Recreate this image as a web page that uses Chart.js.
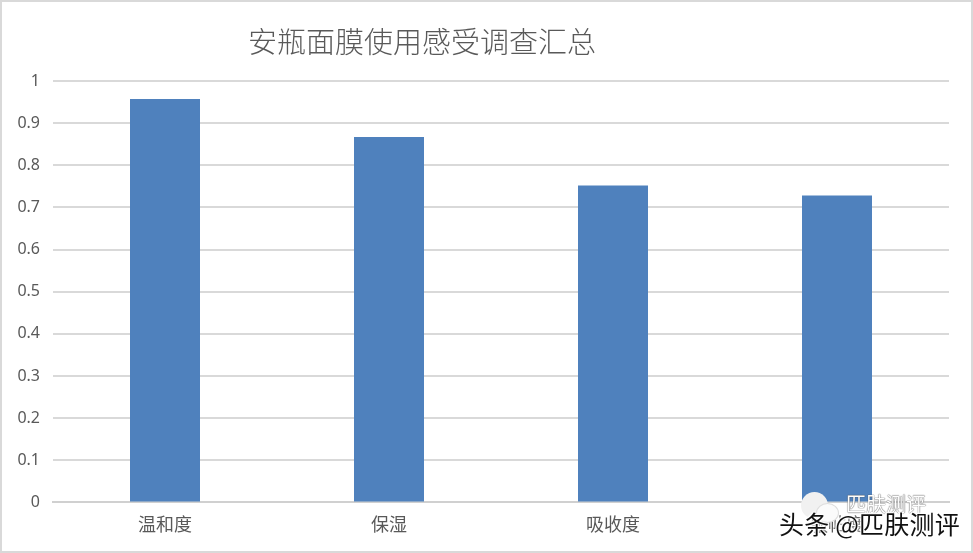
<!DOCTYPE html>
<html>
<head>
<meta charset="utf-8">
<title>安瓶面膜使用感受调查汇总</title>
<script src="https://cdn.jsdelivr.net/npm/chart.js@4"></script>
<style>
  html, body { margin:0; padding:0; background:#fff; overflow:hidden; }
  #wrap { position:relative; width:973px; height:553px; box-sizing:border-box; border:2px solid #d9d9d9; background:#fff; }
  #c { position:absolute; left:-2px; top:-2px; }
  .title { position:absolute; left:248px; top:19px; font:29px "Noto Sans CJK SC"; font-weight:300; color:#595959; white-space:nowrap; }
  .mark { position:absolute; white-space:nowrap; font-family:"Noto Sans CJK SC"; }
  .wm1 { left:779px; top:505px; font-size:25px; letter-spacing:0.2px; color:#111; text-shadow:0 0 3px #fff,0 0 3px #fff,1px 1px 1px #fff,-1px -1px 1px #fff; }
  .wm2 { left:846px; top:489px; font-size:20px; color:#fff; text-shadow:0 0 1px #555,0 0 1px #555; }
  .smile { position:absolute; left:801px; top:492px; width:27px; height:27px; border-radius:50%; background:#f1f1f1; }
  .smile2 { position:absolute; left:816px; top:503px; width:23px; height:20px; border-radius:50%; background:#fbfbfb; border:1px solid #ddd; box-sizing:border-box; }
</style>
</head>
<body>
<div id="wrap">
  <canvas id="c" width="973" height="553"></canvas>
  <div class="title" style="margin:-2px">安瓶面膜使用感受调查汇总</div>
  <div class="smile" style="margin:-2px"></div>
  <div class="smile2" style="margin:-2px"></div>
  <div class="mark wm2" style="margin:-2px">匹肤测评</div>
  <div class="mark wm1" style="margin:-2px">头条 @匹肤测评</div>
</div>
<script>
// last label is covered by the watermark in the source, best guess
const categories = ['温和度', '保湿', '吸收度', '服帖度'];
const values = [0.957, 0.867, 0.752, 0.728];
const tickLabels = ['0', '0.1', '0.2', '0.3', '0.4', '0.5', '0.6', '0.7', '0.8', '0.9', '1'];

new Chart(document.getElementById('c'), {
  type: 'bar',
  data: {
    labels: categories,
    datasets: [{
      data: values,
      backgroundColor: '#4f81bd',
      categoryPercentage: 1,
      barPercentage: 0.3125
    }]
  },
  options: {
    responsive: false,
    animation: false,
    devicePixelRatio: 1,
    layout: { padding: { left: 0, right: 24, top: 81, bottom: 15 } },
    plugins: { legend: { display: false }, tooltip: { enabled: false } },
    scales: {
      x: {
        grid: { display: false },
        border: { color: '#d0d0d0', width: 2 },
        ticks: { color: '#595959', font: { family: '"Noto Sans CJK SC"', size: 18 }, padding: 3 }
      },
      y: {
        min: 0, max: 1,
        afterFit: s => { s.width = 53; },
        grid: { color: '#d9d9d9', lineWidth: 2, drawTicks: false },
        border: { display: false },
        ticks: {
          stepSize: 0.1,
          padding: 13,
          color: '#595959',
          font: { family: '"Noto Sans", "Open Sans"', size: 16 },
          callback: (v, i) => tickLabels[i]
        }
      }
    }
  }
});
</script>
</body>
</html>
